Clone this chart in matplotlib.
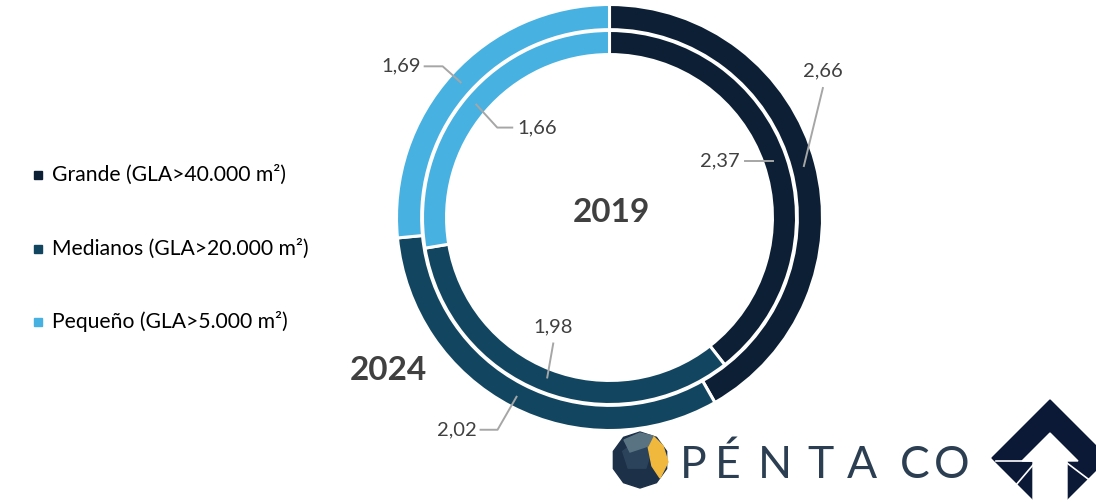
import numpy as np
import matplotlib
matplotlib.use("Agg")
import matplotlib.pyplot as plt
from matplotlib.patches import Polygon, Rectangle

plt.rcParams["font.family"] = ["Lato", "DejaVu Sans"]

categories = ["Grande (GLA>40.000 m²)",
              "Medianos (GLA>20.000 m²)",
              "Pequeño (GLA>5.000 m²)"]
values_2024 = [2.66, 2.02, 1.69]   # outer ring
values_2019 = [2.37, 1.98, 1.66]   # inner ring
labels_2024 = ["2,66", "2,02", "1,69"]
labels_2019 = ["2,37", "1,98", "1,66"]
colors = ["#0c1f34", "#124660", "#47b1e1"]

TXT = "#404040"
LINE = "#a6a6a6"

fig = plt.figure(figsize=(10.96, 5.03), dpi=100)

# --------------------------------------------------
# Overlay axes in pixel coordinates (legend + logos)
# --------------------------------------------------
ov = fig.add_axes([0, 0, 1, 1], zorder=0)
ov.set_xlim(0, 1096)
ov.set_ylim(503, 0)
ov.axis("off")

for i, (cat, col) in enumerate(zip(categories, colors)):
    y = 175 + i * 73.5
    ov.add_patch(Rectangle((34, y - 4), 8, 8, color=col))
    ov.text(52, y, cat, fontsize=15.2, color="#000000", va="center", ha="left")

# Péntaco icon (rough dodecahedron)
cx, cy, r = 640, 460, 28
ang = np.deg2rad(np.arange(10) * 36 + 18)
outer = np.c_[cx + r * np.cos(ang), cy - r * np.sin(ang)]
ov.add_patch(Polygon(outer, closed=True, color="#1c3048"))
ang5 = np.deg2rad(np.arange(5) * 72 + 90)
inner = np.c_[cx - 3 + 15 * np.cos(ang5), cy - 4 - 15 * np.sin(ang5)]
ov.add_patch(Polygon(inner, closed=True, color="#2b445c"))
ov.add_patch(Polygon([[653, 436], [663, 446], [668, 462], [660, 478], [652, 466], [648, 446]],
                     closed=True, color="#f0b83c"))
ov.add_patch(Polygon([[624, 440], [640, 433], [653, 436], [648, 446], [630, 452]],
                     closed=True, color="#5a7383"))

brand = "PÉNTACO"
brand_x = [693, 728, 775, 820, 862, 915, 952]
for ch, bx in zip(brand, brand_x):
    ov.text(bx, 465, ch, fontsize=32, fontweight="normal", color="#2b3e52",
            ha="center", va="center")

# Arrow logo at bottom right
navy = "#0b1836"
ov.add_patch(Polygon([[1050, 400], [1108, 458], [1050, 516], [992, 458]],
                     closed=True, color=navy))
ov.add_patch(Polygon([[1050, 433], [1078, 461], [1067, 461], [1067, 503],
                      [1033, 503], [1033, 461], [1022, 461]],
                     closed=True, color="white"))
ov.plot([996, 1033], [461, 461], color="white", lw=1.2)
ov.plot([1016, 1033], [485, 465], color="white", lw=1.2)
ov.plot([1067, 1096], [463, 485], color="white", lw=1.2)

# --------------------------------------------------
# Donut axes: 1 data unit = 213 px, centre at (609.5, 217.5)
# --------------------------------------------------
R = 213.0
ax = fig.add_axes([(609.5 - R) / 1096, (503 - 217.5 - R) / 503,
                   2 * R / 1096, 2 * R / 503], zorder=1)

ax.pie(values_2024, colors=colors, radius=1.0, startangle=90, counterclock=False,
       wedgeprops=dict(width=0.118, edgecolor="white", linewidth=2.2))
ax.pie(values_2019, colors=colors, radius=0.878, startangle=90, counterclock=False,
       wedgeprops=dict(width=0.113, edgecolor="white", linewidth=2.2))
ax.set_xlim(-1, 1)
ax.set_ylim(-1, 1)
ax.set_aspect("equal")
ax.axis("off")


def mid_angles(vals):
    frac = np.cumsum([0] + list(vals)) / sum(vals)
    return [90 - 360 * (a + b) / 2 for a, b in zip(frac[:-1], frac[1:])]


# leader geometry in data units: (anchor radius, elbow/end offsets, text offset, ha)
p = 1 / R
leaders_2024 = [
    (0.944, [(19 * p, 78 * p)], (0, 17 * p), "center"),
    (0.948, [(-19 * p, -33 * p), (-36 * p, -33 * p)], (-4 * p, 0), "right"),
    (0.944, [(-18 * p, 16 * p), (-36 * p, 16 * p)], (-4 * p, 0), "right"),
]
leaders_2019 = [
    (0.81, [(-28 * p, 0)], (-5 * p, 0), "right"),
    (0.806, [(6 * p, 34 * p)], (0, 17 * p), "center"),
    (0.82, [(21 * p, -23 * p), (36 * p, -23 * p)], (5 * p, 0), "left"),
]

for vals, labs, leaders in [(values_2024, labels_2024, leaders_2024),
                            (values_2019, labels_2019, leaders_2019)]:
    for a, lab, (rr, segs, toff, ha) in zip(mid_angles(vals), labs, leaders):
        x0 = rr * np.cos(np.deg2rad(a))
        y0 = rr * np.sin(np.deg2rad(a))
        xs = [x0] + [x0 + dx for dx, dy in segs]
        ys = [y0] + [y0 + dy for dx, dy in segs]
        ax.plot(xs, ys, color=LINE, lw=1.4, clip_on=False, zorder=5)
        ax.text(xs[-1] + toff[0], ys[-1] + toff[1], lab, fontsize=14.5, color=TXT,
                ha=ha, va="center")

ax.text(1.5 * p, 5 * p, "2019", fontsize=24, fontweight="bold", color=TXT,
        ha="center", va="center")
ax.text(-221.5 * p, -152.5 * p, "2024", fontsize=24, fontweight="bold", color=TXT,
        ha="center", va="center")

fig.savefig("out.png", dpi=100, facecolor="white")
